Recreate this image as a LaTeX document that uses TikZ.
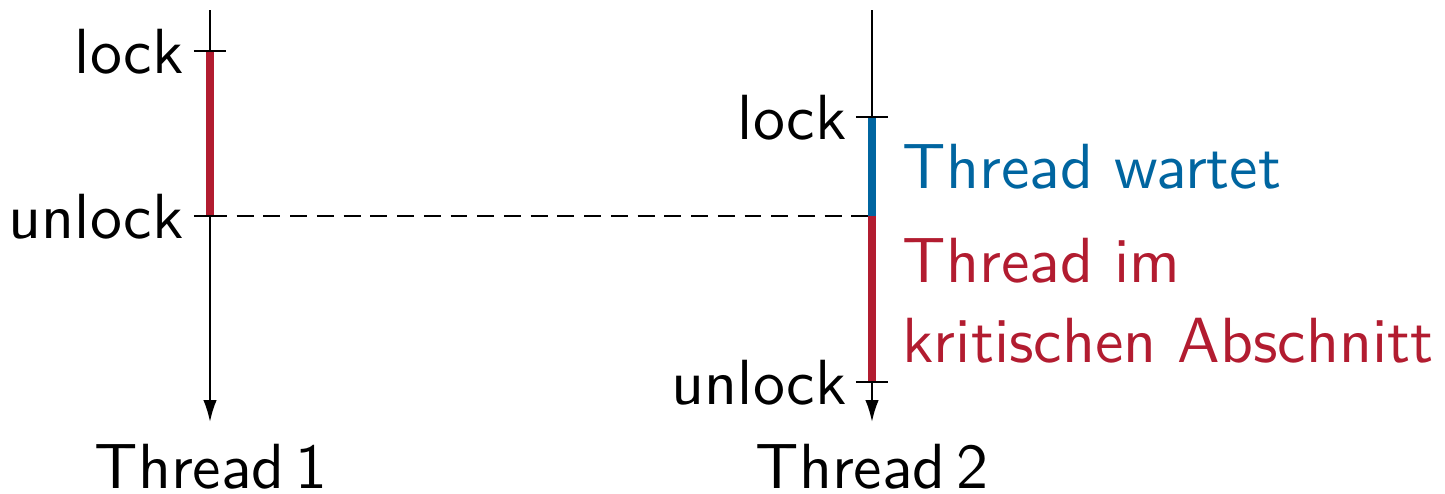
\documentclass[tikz,border=0pt]{standalone}
\usepackage{fontspec}
\setsansfont{lmsans10-regular.otf}
\usetikzlibrary{arrows.meta}
\definecolor{tred}{RGB}{178,28,48}
\definecolor{tblue}{RGB}{0,101,160}
\tikzset{
  axisline/.style={line width=0.6pt,-{Latex[length=6.2pt,width=3.8pt]}},
  barline/.style={line width=2.5pt},
  tickline/.style={line width=0.6pt},
  dashline/.style={line width=0.6pt,dash pattern=on 4.8pt off 2.8pt},
  lbl/.style={inner sep=0pt,anchor=base east},
  txt/.style={inner sep=0pt,anchor=base west},
}
\begin{document}
\begin{tikzpicture}[x=0.01cm,y=-0.01cm,font=\sffamily\fontsize{18.15}{22.8}\selectfont]
\useasboundingbox (0,0) rectangle (1445,494);
% thread 1
\coordinate (t1top) at (210,10);
\coordinate (t1end) at (210,422);
\coordinate (t1lock) at (210,51);
\coordinate (t1unlock) at (210,216);
% thread 2
\coordinate (t2top) at (872,10);
\coordinate (t2end) at (872,422);
\coordinate (t2lock) at (872,117);
\coordinate (t2mid) at (872,216);
\coordinate (t2unlock) at (872,382);

\draw[axisline] (t1top) -- (t1end);
\draw[axisline] (t2top) -- (t2end);

\draw[dashline] (t1unlock) -- (t2mid);

\draw[barline,tred] (t1lock) -- (t1unlock);
\draw[barline,tblue] (t2lock) -- (t2mid);
\draw[barline,tred] (t2mid) -- (t2unlock);

\draw[tickline] ([xshift=-0.16cm]t1lock) -- ([xshift=0.16cm]t1lock);
\draw[tickline] ([xshift=-0.16cm]t1unlock) -- ([xshift=0.16cm]t1unlock);
\draw[tickline] ([xshift=-0.16cm]t2lock) -- ([xshift=0.16cm]t2lock);
\draw[tickline] ([xshift=-0.16cm]t2unlock) -- ([xshift=0.16cm]t2unlock);

\node[lbl] (l1) at ([shift={(-26,22)}]t1lock) {lock};
\node[lbl] (u1) at ([shift={(-26,22)}]t1unlock) {unlock};
\node[lbl] (l2) at ([shift={(-25,22)}]t2lock) {lock};
\node[lbl] (u2) at ([shift={(-25,22)}]t2unlock) {unlock};

\node[txt,text=tblue] (wait) at (902,188) {Thread wartet};
\node[txt,text=tred] (crit1) at (902,282) {Thread im};
\node[txt,text=tred] (crit2) at (902,362) {kritischen Abschnitt};

\node[inner sep=0pt,anchor=base] (th1) at (211,488) {Thread\,1};
\node[inner sep=0pt,anchor=base] (th2) at (872,488) {Thread\,2};
\end{tikzpicture}
\end{document}
